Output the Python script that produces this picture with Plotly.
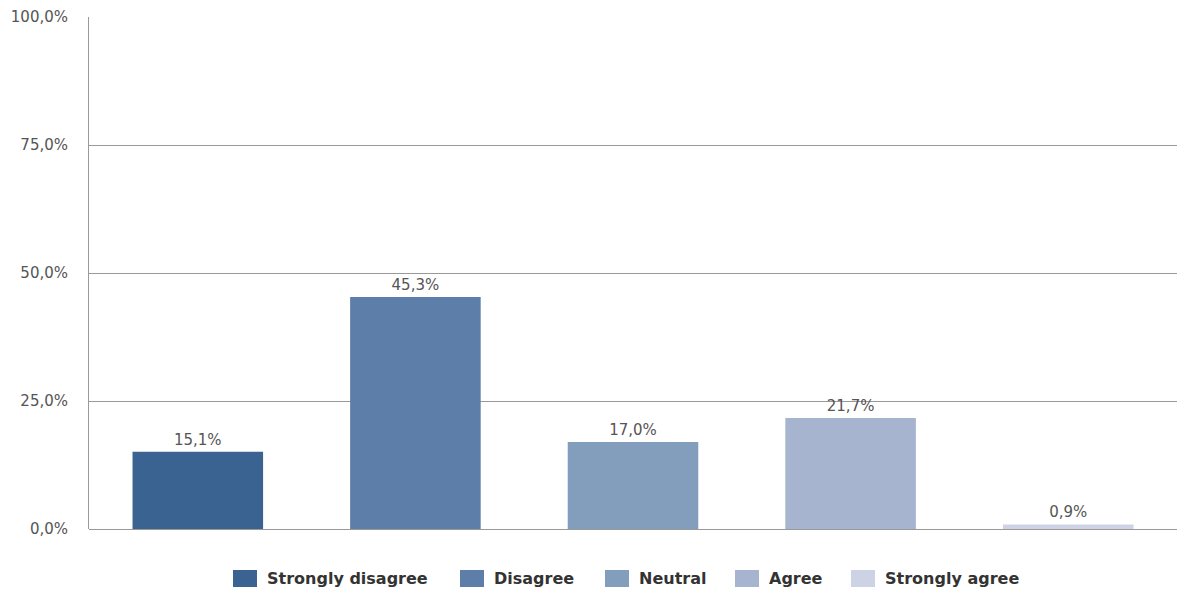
import plotly.graph_objects as go

categories = ["Strongly disagree", "Disagree", "Neutral", "Agree", "Strongly agree"]
values = [15.1, 45.3, 17.0, 21.7, 0.9]
colors = ["#3a6392", "#5e7eaa", "#839ebd", "#a7b4d0", "#cdd3e4"]
y_ticks = [0, 25, 50, 75, 100]
y_tick_labels = [f"{v:.1f}%".replace(".", ",") for v in y_ticks]

# plot area geometry in pixels
W, H = 1177, 591
L, R, T, B = 89, 0, 17, 62
plot_w = W - L - R
plot_h = H - T - B

fig = go.Figure()
for name, val, col in zip(categories, values, colors):
    fig.add_trace(go.Bar(
        x=[name], y=[val], name=name,
        marker=dict(color=col, line=dict(width=0)),
        width=0.6,
        text=[val], texttemplate="%{y:.1f}%", textposition="outside",
        textfont=dict(family="DejaVu Sans", size=15, color="#555555"),
        cliponaxis=False,
        showlegend=False,
    ))

# custom legend below the plot: larger swatches than the built-in legend
swatch_left = [233, 460, 605, 735, 851]
swatch_w, swatch_top, swatch_bot = 24, 570, 587
for name, col, sx in zip(categories, colors, swatch_left):
    x0 = (sx - L) / plot_w
    x1 = (sx + swatch_w - L) / plot_w
    y0 = (H - B - swatch_bot) / plot_h
    y1 = (H - B - swatch_top) / plot_h
    fig.add_shape(type="rect", xref="paper", yref="paper",
                  x0=x0, x1=x1, y0=y0, y1=y1,
                  fillcolor=col, line=dict(width=0))
    fig.add_annotation(
        xref="paper", yref="paper",
        x=(sx + swatch_w + 8 - L) / plot_w,
        y=(H - B - (swatch_top + swatch_bot) / 2) / plot_h,
        xanchor="left", yanchor="middle", showarrow=False,
        text=f"<b>{name}</b>",
        font=dict(family="DejaVu Sans", size=16, color="#333333"),
    )

fig.update_layout(
    width=W, height=H,
    margin=dict(l=L, r=R, t=T, b=B),
    paper_bgcolor="white", plot_bgcolor="white",
    separators=",.",
    barmode="overlay",
    showlegend=False,
    xaxis=dict(visible=False, range=[-0.5, 4.5]),
    yaxis=dict(
        range=[0, 100], tickvals=y_ticks, ticktext=y_tick_labels,
        showgrid=True, gridcolor="#999999", gridwidth=1,
        showline=True, linecolor="#999999", linewidth=1,
        zeroline=True, zerolinecolor="#999999", zerolinewidth=1,
        ticks="", ticklabelstandoff=17,
        tickfont=dict(family="DejaVu Sans", size=15, color="#555555"),
    ),
)

fig.write_html("out.html")
